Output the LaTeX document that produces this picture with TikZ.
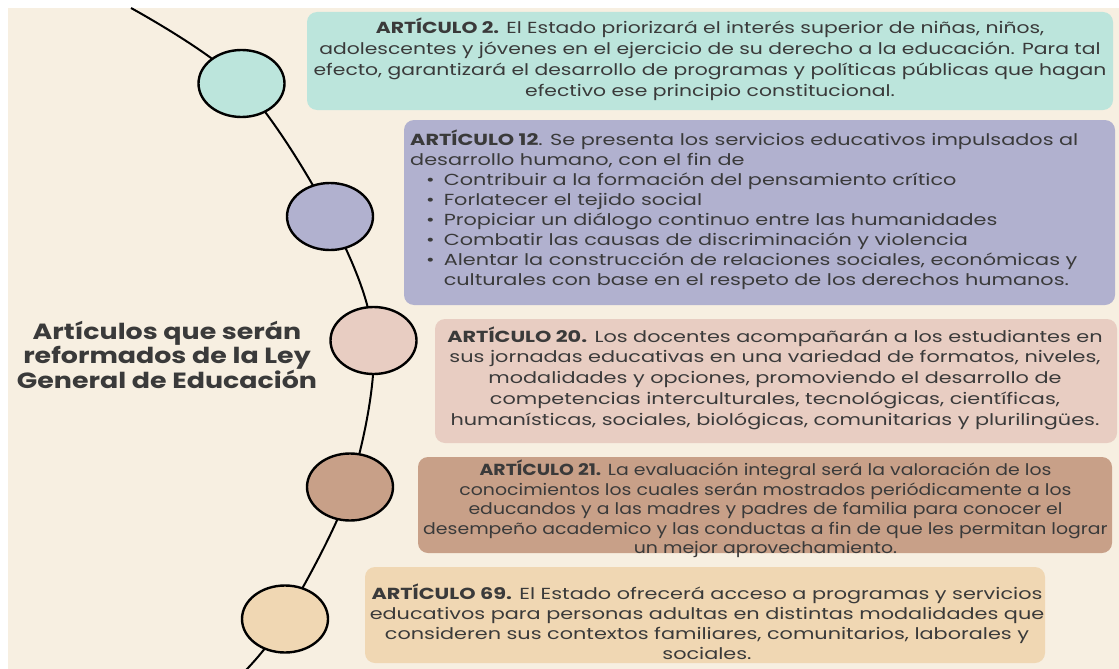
\documentclass[tikz,border=0pt]{standalone}
\usepackage{fontspec}
\usetikzlibrary{shapes.geometric}
\newfontfamily\fbA[FakeStretch=1.27]{Poppins}
\newfontfamily\fbB[FakeStretch=1.30]{Poppins}
\newfontfamily\fbC[FakeStretch=1.30]{Poppins}
\newfontfamily\fbD[FakeStretch=1.18]{Poppins}
\newfontfamily\fbE[FakeStretch=1.30]{Poppins}
\newfontfamily\ftitle[FakeStretch=1.22]{Poppins}
\definecolor{cream}{HTML}{F7EFE1}
\definecolor{cteal}{HTML}{BCE5DC}
\definecolor{clav}{HTML}{B1B1CF}
\definecolor{cpink}{HTML}{E8CDC2}
\definecolor{cbrown}{HTML}{C8A088}
\definecolor{ctan}{HTML}{F0D7B3}
\definecolor{ink}{HTML}{3A3A3A}
\tikzset{
  panel/.style={draw=none, rounded corners=10pt, inner sep=0pt},
  dot/.style={ellipse, draw=black, line width=2.4pt, inner sep=0pt, minimum width=86pt, minimum height=67pt},
  curve/.style={draw=black, line width=2pt},
  txt/.style={text=ink, inner sep=0pt},
}
\begin{document}
\begin{tikzpicture}[x=1pt,y=-1pt]
\useasboundingbox (0,0) rectangle (1119,669);
\fill[white] (0,0) rectangle (1119,669);
\fill[cream] (8,8) rectangle (1119,669);

% panels
\node[panel, fill=cteal, minimum width=806pt, minimum height=98pt] (b1) at (710,61) {};
\node[panel, fill=clav, minimum width=711pt, minimum height=185pt] (b2) at (759.5,212.5) {};
\node[panel, fill=cpink, minimum width=682pt, minimum height=124pt] (b3) at (776,381) {};
\node[panel, fill=cbrown, minimum width=694pt, minimum height=96pt] (b4) at (765,505) {};
\node[panel, fill=ctan, minimum width=680pt, minimum height=96pt] (b5) at (705,615) {};

% curve through circle centres
\coordinate (s) at (131,8);
\coordinate (p1) at (241.5,83.5);
\coordinate (p2) at (330,216.5);
\coordinate (p3) at (373.5,340.5);
\coordinate (p4) at (350,487);
\coordinate (p5) at (285,619);
\coordinate (e) at (246,670);
\draw[curve] plot[smooth, tension=0.55] coordinates {(s) (p1) (p2) (p3) (p4) (p5) (e)};

\node[dot, fill=cteal] (c1) at (p1) {};
\node[dot, fill=clav] (c2) at (p2) {};
\node[dot, fill=cpink] (c3) at (p3) {};
\node[dot, fill=cbrown] (c4) at (p4) {};
\node[dot, fill=ctan] (c5) at (p5) {};

% title
\node[txt, align=center, font=\ftitle\bfseries\fontsize{22}{22.5}\selectfont] (title) at (167,355)
  {Artículos que serán\\reformados de la Ley\\General de Educación};

% texts
\node[txt, align=center, font=\fbA\fontsize{16}{21}\selectfont] (t1) at (710,59)
  {\textbf{ARTÍCULO 2.} El Estado priorizará el interés superior de niñas, niños,\\
   adolescentes y jóvenes en el ejercicio de su derecho a la educación. Para tal\\
   efecto, garantizará el desarrollo de programas y políticas públicas que hagan\\
   efectivo ese principio constitucional.};

\node[txt, align=left, anchor=west, font=\fbB\fontsize{16}{20}\selectfont] (t2) at (410,210)
  {\textbf{ARTÍCULO 12}. Se presenta los servicios educativos impulsados al\\
   desarrollo humano, con el fin de\\
   \hspace*{16pt}\textbullet\hspace{9pt}Contribuir a la formación del pensamiento crítico\\
   \hspace*{16pt}\textbullet\hspace{9pt}Forlatecer el tejido social\\
   \hspace*{16pt}\textbullet\hspace{9pt}Propiciar un diálogo continuo entre las humanidades\\
   \hspace*{16pt}\textbullet\hspace{9pt}Combatir las causas de discriminación y violencia\\
   \hspace*{16pt}\textbullet\hspace{9pt}Alentar la construcción de relaciones sociales, económicas y\\
   \hspace*{16pt}\phantom{\textbullet}\hspace{9pt}culturales con base en el respeto de los derechos humanos.};

\node[txt, align=center, font=\fbC\fontsize{16}{20.7}\selectfont] (t3) at (775,378)
  {\textbf{ARTÍCULO 20.} Los docentes acompañarán a los estudiantes en\\
   sus jornadas educativas en una variedad de formatos, niveles,\\
   modalidades y opciones, promoviendo el desarrollo de\\
   competencias interculturales, tecnológicas, científicas,\\
   humanísticas, sociales, biológicas, comunitarias y plurilingües.};

\node[txt, align=center, font=\fbD\fontsize{16}{19.5}\selectfont] (t4) at (765.5,509)
  {\textbf{ARTÍCULO 21.} La evaluación integral será la valoración de los\\
   conocimientos los cuales serán mostrados periódicamente a los\\
   educandos y a las madres y padres de familia para conocer el\\
   desempeño academico y las conductas a fin de que les permitan lograr\\
   un mejor aprovechamiento.};

\node[txt, align=center, font=\fbE\fontsize{16}{20}\selectfont] (t5) at (707,622)
  {\textbf{ARTÍCULO 69.} El Estado ofrecerá acceso a programas y servicios\\
   educativos para personas adultas en distintas modalidades que\\
   consideren sus contextos familiares, comunitarios, laborales y\\
   sociales.};
\end{tikzpicture}
\end{document}
